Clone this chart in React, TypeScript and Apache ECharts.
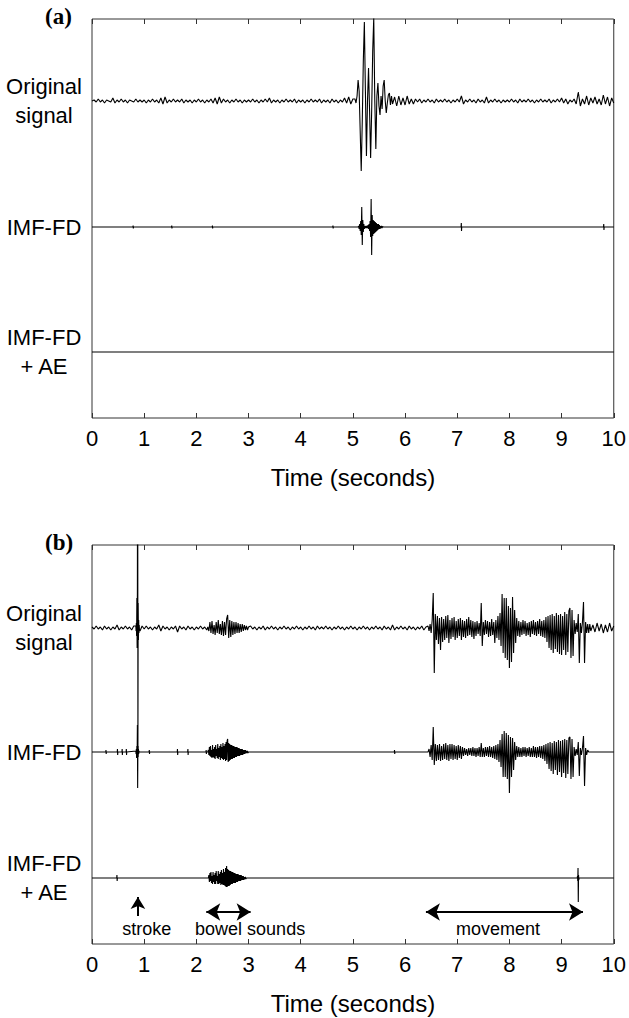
import React, { useEffect, useRef } from "react";
import * as echarts from "echarts";

// ---------- axis / layout data ----------
const T_MIN = 0;
const T_MAX = 10;
const T_STEP = 1;
const Y_SPAN = 399; // vertical extent of each panel in amplitude units
const NOISE_STEP = 0.04; // s between background samples

const panelTags = ["(a)", "(b)"];
const traceLabels = ["Original\nsignal", "IMF-FD", "IMF-FD\n+ AE"];
const aBaselines = [317, 191, 66];
const bBaselines = [316, 192, 66];
const xTitle = "Time (seconds)";

// ---------- panel (a) ----------
// original signal, background every 0.04 s (amplitude, + is up)
const aOrigNoise = [
  0, 1, -1, 2, -1, 1, -2, 1, 0, -1, 3, -2, 1, -1, 2, -1, 1, -2, 1, 0, -1, 2, -1, 1, -1,
  1, -2, 1, -1, 2, -1, 1, -2, 3, -3, 4, -2, 1, -1, 2, -1, 1, -1, 2, -2, 1, -1, 1, -2, 1,
  -1, 2, -1, 1, -2, 1, -1, 2, -2, 3, -3, 4, -2, 2, -1, 1, -2, 1, -1, 2, -1, 1, -2, 1, -1,
  1, -1, 2, -1, 1, -2, 1, -1, 2, -1, 3, -2, 1, -1, 1, -2, 1, -1, 2, -1, 1, -1, 2, -2, 1,
  -1, 1, -2, 1, -1, 2, -1, 1, -1, 2, -2, 1, -1, 1, -2, 2, -1, 1, -2, 1, -1, 3, -2, 4, -3,
  2, -2, 0, 0, 0, 0, 0, 0, 0, 0, 0, 0, 0, 0, 0, 0, 0, 0, 0, 0, 4, -5, 5, -4, 3,
  -4, 5, -3, 2, -3, 2, -1, 2, -2, 1, -1, 2, -1, 1, -2, 2, -1, 1, -1, 2, -1, 1, -2, 1, -1,
  2, -1, 5, -3, 1, -1, 2, -1, 1, -2, 2, -1, 1, -2, 4, -2, 1, -1, 2, -1, 1, -2, 1, -1, 1,
  -1, 2, -1, 1, -2, 2, -1, 1, -1, 2, -1, 1, -2, 1, -1, 2, -1, 1, -1, 2, -2, 1, -1, 2, -1,
  3, -2, 2, -3, 1, -1, 2, -3, 9, -5, 2, -3, 5, -4, 3, -2, 4, -3, 2, -4, 6, -3, 4, -5, 3,
  -2,
];
// burst of the original signal from 5.04 s, every 0.02 s
const aOrigBurstStart = 5.04;
const aOrigBurstStep = 0.02;
const aOrigBurst = [
  2, -2, 5, 21, 10, -30, -70, -20, 40, 79, 10, -55, 0, 33, -10, -57, -10, 50, 83, 0,
  -48, 5, 18, -5, -14, 5, -8, 15, 21, 0, -12, -2, 6, 8, -4, 5, -3,
];
// IMF-FD burst from 5.10 s, every 0.01 s
const aImfBurstStart = 5.1;
const aImfBurstStep = 0.01;
const aImfBurst = [
  0, 1, -2, 3, -4, 6, -8, 20, -18, 7, -5, 3, -2, 1, -1, 1, -1, 1, -1, 2, -2, 3, -4, 6, -10,
  28, -28, 12, -9, 7, -7, 6, -6, 5, -5, 4, -4, 3, -3, 3, -2, 2, -2, 1, -1, 1, -1, 0.5, 0,
];
// isolated IMF-FD spikes: [time, up, down]
const aImfSpikes = [
  [0.79, 1.5, 1.5], [1.53, 1.5, 1.5], [2.31, 1.5, 1.5], [4.62, 1.5, 1.5], [7.08, 4, 4], [9.81, 3, 3],
];

// ---------- panel (b) ----------
const bOrigNoise = [
  1, -1, 2, -1, 1, -2, 2, -1, 1, -2, 1, -1, 3, -2, 1, -1, 2, -1, 1, -2, 2, -1, 2, -3, 2,
  -1, 2, -1, 1, -2, 1, -1, 3, -3, 2, -1, 1, -2, 1, -1, 2, -4, 2, -1, 1, -2, 2, -1, 1, -2,
  1, -1, 2, -1, 1, -2, 2, -1, 3, -2, 1, -2, 2, -1, 1, -2, 1, -1, 2, -1, 1, -2, 1, -1, 2,
  -1, 2, -1, 1, -2, 1, -1, 2, -2, 1, -1, 2, -1, 1, -2, 1, -1, 2, -1, 1, -2, 1, -1, 2, -1,
  1, -2, 1, -1, 2, -1, 1, -2, 2, -1, 1, -1, 2, -1, 1, -2, 1, -1, 2, -1, 1, -2, 1, -1, 2,
  -1, 1, -2, 1, -1, 2, -1, 1, -2, 1, -1, 2, -1, 1, -2, 2, -1, 1, -2, 3, -2, 1, -1, 2, -1,
  1, -2, 2, -1, 1, -2, 1, -1, 2, -2, 1, -3, 2, 0, 0, 0, 0, 0, 0, 0, 0, 0, 0, 0, 0,
  0, 0, 0, 0, 0, 0, 0, 0, 0, 0, 0, 0, 0, 0, 0, 0, 0, 0, 0, 0, 0, 0, 0, 0, 0,
  0, 0, 0, 0, 0, 0, 0, 0, 0, 0, 0, 0, 0, 0, 0, 0, 0, 0, 0, 0, 0, 0, 0, 0, 0,
  0, 0, 0, 0, 0, 0, 0, 0, 0, 0, 0, 0, 0, 0, 0, 3, -4, 5, -3, 4, -5, 3, -4, 5, -3,
  2,
];
// stroke spike from 0.84 s, every 0.005 s
const bOrigStrokeStart = 0.84;
const bOrigStrokeStep = 0.005;
const bOrigStroke = [2, -3, 5, -8, 30, -20, 38, 300, -124, 25, -12, 8, -5, 3, -2];
// bowel sounds from 2.22 s, every 0.02 s
const bOrigBowelStart = 2.22;
const bOrigBowelStep = 0.02;
const bOrigBowel = [
  1, -3, 6, -5, 7, -6, 3, -7, 6, -5, 8, -6, 4, -7, 7, -8, 6, -7, 9, 13,
  -10, 8, -9, 7, -7, 6, -6, 6, -5, 5, -5, 4, -4, 4, -3, 3, -2, 2, -2, 1,
];
// movement from 6.44 s, every 0.02 s
const bOrigMoveStart = 6.44;
const bOrigMoveStep = 0.02;
const bOrigMove = [
  2, -3, 4, -5, 8, 35, -45, 14, -12, 12, -16, 10, -22, 11, -14, 9, -12, 12, -10, 13, -15, 8, -11, 10, -9,
  11, -12, 7, -10, 9, -8, 10, -12, 8, -9, 7, -10, 9, -8, 11, -7, 8, -9, 7, -11, 6, -8, 7, -6, 5,
  -8, 25, -18, 6, -7, 8, -6, 7, -9, 6, -8, 9, -7, 6, -15, 8, -10, 12, -12, 15, -18, 34, -25, 30, -30,
  30, -32, 22, -40, 20, -34, 31, -25, 18, -15, 10, -8, 7, -9, 6, -7, 8, -6, 7, -8, 5, -7, 6, -9, 7,
  -6, 8, -7, 6, -8, 7, -6, 9, -8, 7, -9, 8, -10, 11, -14, 12, -20, 13, -22, 14, -25, 12, -21, 15, -24,
  13, -26, 14, -27, 12, -22, 16, -27, 14, -24, 17, 20, -30, 18, -28, 8, -6, 5, -4, 14, -35, 5, -5, 6, 26,
  -35, 6, -5, 4, -5, 4, -3,
];

const bImfSpikes = [
  [0.27, 2, 2], [0.49, 3, 3], [0.58, 3, 3], [0.66, 3, 3], [1.1, 2, 2], [1.64, 3, 3], [1.84, 3, 3],
  [2.19, 2, 2], [5.8, 2, 2],
];
const bImfStrokeStart = 0.84;
const bImfStrokeStep = 0.005;
const bImfStroke = [1, -2, 3, -6, 6, -6, 27, -36, 6, -5, 3, -2, 1, 0];
const bImfBowelStart = 2.22;
const bImfBowelStep = 0.01;
const bImfBowel = [
  0, 2, -3, 5, -4, 6, -5, 2, -6, 7, -5, 3, -6, 5, -7, 7, -4, 3, -6, 8, -7, 4, -5, 6, -8,
  8, -6, 5, -7, 9, -8, 6, -7, 8, -9, 10, -8, 11, 13, -10, 9, -9, 8, -8, 7, -7, 7, -7, 6, -6,
  6, -6, 5, -5, 5, -5, 5, -4, 4, -4, 4, -4, 3, -3, 3, -3, 3, -3, 2, -2, 2, -2, 2, -1, 1,
  -1, 1, -1, 0,
];
const bImfMoveStart = 6.44;
const bImfMoveStep = 0.02;
const bImfMove = [
  0, 3, -5, 7, -8, 25, -13, 8, -9, 7, -8, 8, -9, 6, -8, 8, -7, 9, -8, 7, -9, 8, -7, 8, -8,
  7, -7, 6, -8, 7, -6, 6, -7, 5, -4, 4, -3, 3, -4, 4, -3, 4, -4, 5, -4, 4, -5, 4, -4, 5,
  -5, 9, -5, 4, -5, 5, -4, 5, -5, 6, -5, 5, -6, 6, -7, 7, -8, 8, -10, 12, -15, 18, -25, 21, -25,
  19, -27, 17, -41, 15, -25, 14, -18, 10, -8, 6, -5, 5, -5, 4, -5, 5, -4, 5, -5, 4, -4, 5, -5, 4,
  -5, 6, -5, 5, -6, 5, -5, 6, -6, 6, -7, 7, -9, 8, -12, 9, -17, 10, -19, 9, -22, 11, -18, 10, -23,
  12, -20, 11, -25, 12, -21, 13, -26, 12, -22, 14, 15, -27, 13, -25, 5, -4, 3, -3, 10, -24, 4, -3, 4, 16,
  -34, 4, -3, 2, 0,
];

const bAeSpikes = [[0.48, 3, 3]];
const bAeBowelStart = 2.23;
const bAeBowelStep = 0.01;
const bAeBowel = [
  0, 3, -4, 5, -3, 6, -5, 2, -6, 6, -4, 3, -6, 5, -6, 7, -3, 2, -6, 7, -6, 4, -5, 6, -7,
  8, -6, 5, -7, 9, -7, 6, -8, 10, -9, 12, -9, 9, -8, 8, -8, 7, -7, 7, -6, 6, -6, 6, -5, 5,
  -5, 5, -5, 4, -4, 4, -4, 4, -3, 3, -3, 3, -3, 3, -2, 2, -2, 2, -2, 1, -1, 1, -1, 0,
];
const bAeMoveStart = 9.3;
const bAeMoveStep = 0.005;
const bAeMove = [0, 2, -3, 10, -24, 3, -2, 0];

// ---------- annotations (panel b) ----------
const annotTexts = ["stroke", "bowel sounds", "movement"];
const annotTextTimes = [1.05, 3.03, 7.78];
const annotTextLevel = 15;
const strokeArrowTime = 0.88;
const strokeArrowFrom = 28;
const strokeArrowTo = 47;
const spanArrows = [
  [2.19, 3.04],
  [6.4, 9.41],
];
const spanArrowLevel = 32;

// ---------- helpers ----------
type Win = { t0: number; dt: number; v: number[] };
const win = (t0: number, dt: number, v: number[]): Win => ({ t0, dt, v });
const spikeWins = (sp: number[][]): Win[] =>
  sp.map(([t, up, down]) => ({ t0: t - 0.006, dt: 0.004, v: [0, up, -down, 0] }));

function buildTrace(noise: number[] | null, wins: Win[], base: number): number[][] {
  const ranges = wins.map((w) => [w.t0, w.t0 + w.dt * (w.v.length - 1)]);
  const inside = (t: number) => ranges.some(([a, b]) => t >= a - 1e-9 && t <= b + 1e-9);
  const pts: number[][] = [];
  if (noise) {
    noise.forEach((v, i) => {
      const t = +(i * NOISE_STEP).toFixed(4);
      if (!inside(t)) pts.push([t, v]);
    });
  } else {
    [T_MIN, T_MAX].forEach((t) => {
      if (!inside(t)) pts.push([t, 0]);
    });
  }
  wins.forEach((w) => w.v.forEach((v, i) => pts.push([+(w.t0 + i * w.dt).toFixed(4), v])));
  pts.sort((p, q) => p[0] - q[0]);
  return pts.map(([t, v]) => [t, base + v]);
}

const FONT = "Liberation Sans, Arial, Helvetica, sans-serif";
const GRID_LEFT = 92;
const GRID_WIDTH = 526;
const GRID_TOPS = [19, 545];

export default function App() {
  const ref = useRef<HTMLDivElement>(null);

  useEffect(() => {
    if (!ref.current) return;
    const chart = echarts.init(ref.current, undefined, { renderer: "svg" });

    const traces = [
      buildTrace(aOrigNoise, [win(aOrigBurstStart, aOrigBurstStep, aOrigBurst)], aBaselines[0]),
      buildTrace(null, [...spikeWins(aImfSpikes), win(aImfBurstStart, aImfBurstStep, aImfBurst)], aBaselines[1]),
      buildTrace(null, [], aBaselines[2]),
      buildTrace(
        bOrigNoise,
        [
          win(bOrigStrokeStart, bOrigStrokeStep, bOrigStroke),
          win(bOrigBowelStart, bOrigBowelStep, bOrigBowel),
          win(bOrigMoveStart, bOrigMoveStep, bOrigMove),
        ],
        bBaselines[0]
      ),
      buildTrace(
        null,
        [
          ...spikeWins(bImfSpikes),
          win(bImfStrokeStart, bImfStrokeStep, bImfStroke),
          win(bImfBowelStart, bImfBowelStep, bImfBowel),
          win(bImfMoveStart, bImfMoveStep, bImfMove),
        ],
        bBaselines[1]
      ),
      buildTrace(
        null,
        [...spikeWins(bAeSpikes), win(bAeBowelStart, bAeBowelStep, bAeBowel), win(bAeMoveStart, bAeMoveStep, bAeMove)],
        bBaselines[2]
      ),
    ];

    const grids = GRID_TOPS.map((top) => ({
      left: GRID_LEFT,
      top,
      width: GRID_WIDTH,
      height: Y_SPAN,
      show: true,
      borderColor: "#333",
      borderWidth: 1,
      backgroundColor: "transparent",
    }));

    const xAxes: any[] = [];
    GRID_TOPS.forEach((_, g) => {
      xAxes.push({
        type: "value",
        gridIndex: g,
        position: "bottom",
        min: T_MIN,
        max: T_MAX,
        interval: T_STEP,
        axisLine: { show: false },
        axisTick: { inside: true, length: 5, lineStyle: { color: "#333" } },
        axisLabel: { fontSize: 22, color: "#000", fontFamily: FONT, margin: 9 },
        splitLine: { show: false },
        name: xTitle,
        nameLocation: "middle",
        nameGap: 47,
        nameTextStyle: { fontSize: 24, color: "#000", fontFamily: FONT },
      });
      xAxes.push({
        type: "value",
        gridIndex: g,
        position: "top",
        min: T_MIN,
        max: T_MAX,
        interval: T_STEP,
        axisLine: { show: false },
        axisTick: { inside: true, length: 5, lineStyle: { color: "#333" } },
        axisLabel: { show: false },
        splitLine: { show: false },
      });
    });

    const yAxes = GRID_TOPS.map((_, g) => ({
      type: "value",
      gridIndex: g,
      min: 0,
      max: Y_SPAN,
      show: false,
    }));

    const series: any[] = traces.map((data, k) => {
      const g = k < 3 ? 0 : 1;
      return {
        type: "line",
        xAxisIndex: g * 2,
        yAxisIndex: g,
        data,
        showSymbol: false,
        symbol: "none",
        clip: true,
        silent: true,
        lineStyle: { color: "#000", width: 1.1 },
      };
    });

    series.push({
      type: "scatter",
      xAxisIndex: 2,
      yAxisIndex: 1,
      silent: true,
      symbolSize: 1,
      itemStyle: { color: "#fff", opacity: 1 },
      data: annotTexts.map((txt, i) => [annotTextTimes[i], annotTextLevel, txt]),
      label: {
        show: true,
        position: "inside",
        formatter: (p: any) => p.data[2],
        fontSize: 18,
        color: "#000",
        opacity: 1,
        textBorderWidth: 0,
        textBorderColor: "transparent",
        fontFamily: FONT,
      },
      markLine: {
        silent: true,
        animation: false,
        symbol: ["arrow", "arrow"],
        symbolSize: [13, 14],
        label: { show: false },
        lineStyle: { color: "#000", width: 2, type: "solid", opacity: 1 },
        data: [
          ...spanArrows.map(([a, b]) => [
            { coord: [a, spanArrowLevel] },
            { coord: [b, spanArrowLevel] },
          ]),
          [
            { coord: [strokeArrowTime, strokeArrowFrom], symbol: "none" },
            { coord: [strokeArrowTime, strokeArrowTo], symbol: "arrow", symbolSize: [11, 12] },
          ],
        ],
      },
    });

    const labelBaselines = [aBaselines, bBaselines];
    const graphics: any[] = [];
    GRID_TOPS.forEach((top, g) => {
      graphics.push({
        type: "text",
        x: 45,
        y: top - 3,
        style: {
          text: panelTags[g],
          font: "bold 23px Liberation Serif, Times New Roman, serif",
          fill: "#000",
          align: "left",
          verticalAlign: "middle",
        },
      });
      labelBaselines[g].forEach((b, k) => {
        graphics.push({
          type: "text",
          x: 44,
          y: top + (Y_SPAN - b),
          style: {
            text: traceLabels[k],
            font: `22px ${FONT}`,
            fill: "#000",
            align: "center",
            verticalAlign: "middle",
            lineHeight: 29,
          },
        });
      });
    });

    chart.setOption({
      animation: false,
      textStyle: { fontFamily: FONT },
      grid: grids,
      xAxis: xAxes,
      yAxis: yAxes,
      series,
      graphic: graphics,
    });

    return () => chart.dispose();
  }, []);

  return <div ref={ref} style={{ position: "absolute", left: 0, top: 0, width: 629, height: 1018 }} />;
}
